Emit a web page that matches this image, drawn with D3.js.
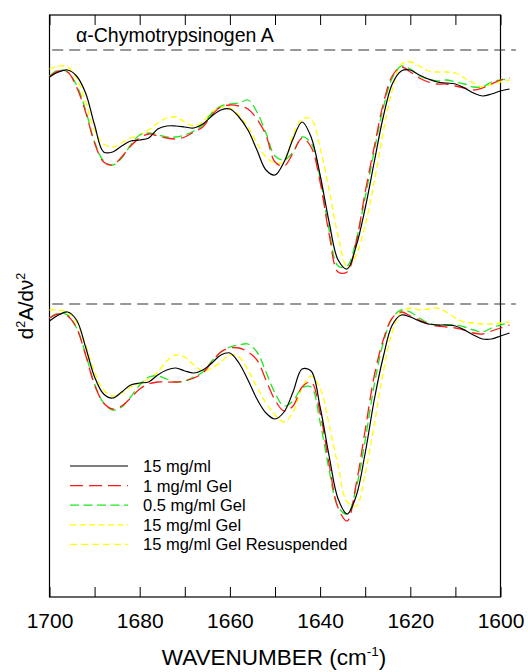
<!DOCTYPE html>
<html>
<head>
<meta charset="utf-8">
<script src="https://cdnjs.cloudflare.com/ajax/libs/d3/7.8.5/d3.min.js"></script>
<style>
  body { margin: 0; background: #fff; }
  svg { font-family: "Liberation Sans", Arial, Helvetica, sans-serif; }
</style>
</head>
<body>
<script>
// wavenumber grid shared by every spectrum (cm-1)
var wavenumbers = [1700, 1698, 1696, 1694, 1692, 1690, 1688, 1686, 1684, 1682, 1680, 1678, 1676,
  1674, 1672, 1670, 1668, 1666, 1664, 1662, 1660, 1658, 1656, 1654, 1652, 1650,
  1648, 1646, 1644, 1642, 1640, 1638, 1636, 1634, 1632, 1630, 1628, 1626, 1624,
  1622, 1620, 1618, 1616, 1614, 1612, 1610, 1608, 1606, 1604, 1602, 1600, 1598];

// upper panel, second derivative (arb. units, 0 = dashed baseline)
var upperBlack = [-2.7, -2.2, -2.0, -2.6, -4.3, -7.5, -10.2, -10.2, -9.6, -9.1, -9.0, -8.8, -7.9,
  -7.6, -7.6, -7.7, -7.8, -7.4, -6.6, -6.0, -5.9, -6.7, -8.0, -10.0, -12.0, -12.5,
  -11.2, -8.9, -7.2, -8.7, -12.5, -17.2, -21.0, -21.9, -19.6, -15.8, -11.2, -6.7, -3.4,
  -2.1, -2.0, -2.5, -2.9, -3.2, -3.3, -3.4, -3.8, -4.3, -4.6, -4.4, -4.1, -3.9];
var upperRed = [-2.7, -2.1, -2.2, -3.7, -6.2, -9.3, -11.2, -11.5, -10.7, -9.6, -8.8, -8.4, -8.6,
  -8.8, -8.9, -8.7, -8.2, -7.7, -6.5, -5.7, -5.5, -5.6, -5.9, -6.9, -8.5, -11.2,
  -11.6, -10.3, -8.8, -9.7, -13.2, -18.4, -22.2, -22.2, -19.2, -14.2, -9.7, -5.4, -2.6,
  -1.7, -2.2, -2.8, -3.2, -3.4, -3.4, -3.6, -3.8, -4.0, -3.8, -3.4, -3.0, -2.8];
var upperGreen = [-2.6, -2.0, -2.2, -3.5, -6.0, -9.2, -11.1, -11.5, -10.8, -9.5, -8.5, -8.3, -8.5,
  -8.7, -8.7, -8.5, -8.1, -7.5, -6.3, -5.6, -5.4, -5.3, -5.0, -6.2, -8.3, -10.6,
  -11.0, -10.2, -8.7, -9.3, -12.8, -18.0, -21.6, -21.6, -19.0, -14.7, -10.1, -5.8, -2.8,
  -1.6, -1.9, -2.6, -2.9, -3.1, -3.0, -3.2, -3.4, -3.7, -3.7, -3.2, -3.0, -2.9];
var upperYellow = [-1.9, -1.6, -1.7, -2.8, -5.2, -8.0, -9.4, -9.7, -9.3, -8.8, -8.5, -8.0, -7.3,
  -6.8, -6.7, -7.2, -7.6, -7.2, -6.2, -5.7, -5.8, -6.5, -7.7, -9.3, -10.7, -11.3,
  -11.2, -8.5, -6.9, -6.9, -9.8, -14.0, -18.6, -21.7, -20.5, -17.5, -13.2, -8.2, -4.0,
  -1.4, -1.2, -1.6, -2.1, -2.2, -2.2, -2.3, -2.8, -3.3, -3.7, -3.4, -3.2, -3.0];

// lower panel, same units relative to its own baseline
var lowerBlack = [-1.7, -1.1, -0.8, -1.6, -4.3, -7.3, -9.0, -9.4, -8.8, -8.1, -7.9, -7.8, -7.1,
  -6.6, -6.4, -6.7, -6.9, -6.6, -5.9, -5.1, -4.9, -5.9, -7.6, -9.5, -10.9, -11.5,
  -10.8, -8.8, -6.5, -6.7, -10.3, -15.2, -19.5, -21.0, -19.2, -14.9, -9.6, -5.3, -2.1,
  -1.1, -1.3, -1.7, -2.0, -2.1, -2.1, -2.2, -2.6, -3.1, -3.5, -3.5, -3.2, -2.9];
var lowerRed = [-1.4, -1.0, -1.2, -2.4, -5.1, -8.1, -9.9, -10.5, -10.2, -9.4, -8.5, -8.0, -7.8,
  -7.8, -7.8, -7.7, -7.4, -6.9, -5.8, -4.8, -4.4, -4.4, -4.8, -5.6, -7.6, -9.6,
  -10.7, -10.2, -8.3, -7.8, -10.9, -16.0, -20.4, -21.7, -18.0, -12.6, -7.2, -3.6, -1.4,
  -0.8, -1.2, -1.6, -2.0, -2.2, -2.3, -2.4, -2.6, -2.9, -3.0, -2.7, -2.4, -2.1];
var lowerGreen = [-1.4, -0.9, -1.1, -2.4, -5.0, -8.0, -9.9, -10.6, -10.3, -9.3, -8.1, -7.3, -7.2,
  -7.5, -7.8, -7.7, -7.3, -6.8, -5.7, -4.8, -4.3, -4.1, -4.0, -4.8, -6.8, -8.9,
  -10.2, -9.7, -8.4, -8.3, -11.8, -16.6, -20.3, -21.0, -18.4, -13.6, -8.1, -3.9, -1.4,
  -0.6, -0.8, -1.4, -1.9, -2.1, -2.1, -2.1, -2.3, -2.6, -2.8, -2.4, -2.1, -1.9];
var lowerYellow = [-0.6, -0.6, -0.8, -1.8, -4.1, -6.8, -8.6, -9.2, -8.9, -8.3, -7.9, -7.5, -6.8,
  -5.7, -5.1, -5.3, -6.1, -6.7, -6.4, -5.8, -5.1, -5.3, -6.6, -8.3, -9.9, -11.1,
  -11.8, -10.8, -8.4, -7.2, -8.4, -12.1, -16.2, -19.8, -20.2, -16.9, -12.1, -6.8, -2.8,
  -0.8, -0.4, -0.6, -0.5, -0.4, -0.8, -1.4, -1.8, -1.9, -2.0, -2.0, -1.9, -1.8];

// offsets of the two stacked panels, and the extent of the dashed baselines
var panelOffsets = [0, -25.4];
var baselineExtent = [1699.4, 1596.6];

var legendLabels = ["15 mg/ml", "1 mg/ml Gel", "0.5 mg/ml Gel", "15 mg/ml Gel", "15 mg/ml Gel Resuspended"];
var xTickValues = [1700, 1690, 1680, 1670, 1660, 1650, 1640, 1630, 1620, 1610, 1600];

// styles for each sample
var styles = [
  {color: "#000000", dash: null, width: 1.2},
  {color: "#ff1a1a", dash: "13,6", width: 1.3},
  {color: "#1ee81e", dash: "9,4.5", width: 1.3},
  {color: "#ffff00", dash: "6,3.5", width: 1.3},
  {color: "#ffff00", dash: "7,4", width: 1.3}
];

var width = 528, height = 672;
var plot = {left: 49.5, right: 500.5, top: 15, bottom: 597};

var svg = d3.select("body").append("svg")
  .attr("width", width)
  .attr("height", height);

var x = d3.scaleLinear().domain([1700, 1600]).range([plot.left, plot.right]);
var y = d3.scaleLinear().domain([-54.7, 3.5]).range([plot.bottom, plot.top]);

// frame
svg.append("rect")
  .attr("x", plot.left).attr("y", plot.top)
  .attr("width", plot.right - plot.left).attr("height", plot.bottom - plot.top)
  .attr("fill", "none").attr("stroke", "#000").attr("stroke-width", 1.2);

// bottom axis, ticks pointing inwards
var xAxis = svg.append("g")
  .attr("transform", "translate(0," + plot.bottom + ")")
  .call(d3.axisBottom(x).tickValues(xTickValues).tickSize(-10).tickPadding(16)
    .tickFormat(function(d) { return d % 20 === 0 ? d : ""; }));
xAxis.select(".domain").remove();
xAxis.selectAll("text").attr("font-size", 21).attr("font-family", null).attr("fill", "#000");

var topAxis = svg.append("g")
  .attr("transform", "translate(0," + plot.top + ")")
  .call(d3.axisTop(x).tickValues(xTickValues).tickSize(-10).tickFormat(""));
topAxis.select(".domain").remove();

svg.selectAll(".tick line").attr("stroke", "#000").attr("stroke-width", 1);

// dashed baselines
svg.selectAll(".baseline")
  .data(panelOffsets)
  .enter().append("line")
  .attr("class", "baseline")
  .attr("x1", x(baselineExtent[0]))
  .attr("x2", x(baselineExtent[1]))
  .attr("y1", function(d) { return y(d); })
  .attr("y2", function(d) { return y(d); })
  .attr("stroke", "#333")
  .attr("stroke-width", 1.2)
  .attr("stroke-dasharray", "11,6");

// spectra
var panels = [
  {offset: panelOffsets[0], series: [upperBlack, upperRed, upperGreen, upperYellow]},
  {offset: panelOffsets[1], series: [lowerBlack, lowerRed, lowerGreen, lowerYellow]}
];

panels.forEach(function(p) {
  var line = d3.line()
    .x(function(d, i) { return x(wavenumbers[i]); })
    .y(function(d) { return y(d + p.offset); })
    .curve(d3.curveCatmullRom.alpha(0.5));

  // draw the black one last so it sits on top
  [3, 2, 1, 0].forEach(function(k) {
    svg.append("path")
      .datum(p.series[k])
      .attr("d", line)
      .attr("fill", "none")
      .attr("stroke", styles[k].color)
      .attr("stroke-width", styles[k].width)
      .attr("stroke-dasharray", styles[k].dash);
  });
});

// title
svg.append("text")
  .attr("x", 76).attr("y", 42)
  .attr("font-size", 19.5)
  .text("\u03b1-Chymotrypsinogen A");

// legend
var legend = svg.append("g").attr("transform", "translate(70,466)");
var rows = legend.selectAll("g")
  .data(legendLabels)
  .enter().append("g")
  .attr("transform", function(d, i) { return "translate(0," + (i * 19.6) + ")"; });
rows.append("line")
  .attr("x1", 0).attr("x2", 58)
  .attr("stroke", function(d, i) { return styles[i].color; })
  .attr("stroke-width", function(d, i) { return styles[i].width; })
  .attr("stroke-dasharray", function(d, i) { return styles[i].dash; });
rows.append("text")
  .attr("x", 73).attr("y", 6)
  .attr("font-size", 16.5)
  .text(function(d) { return d; });

// axis titles
var xt = svg.append("text")
  .attr("x", 274).attr("y", 665)
  .attr("text-anchor", "middle")
  .attr("font-size", 22.5);
xt.append("tspan").text("WAVENUMBER (cm");
xt.append("tspan").attr("font-size", 13.5).attr("dy", -9).text("-1");
xt.append("tspan").attr("dy", 9).text(")");

var yt = svg.append("text")
  .attr("transform", "translate(33,306) rotate(-90)")
  .attr("text-anchor", "middle")
  .attr("font-size", 20.5);
yt.append("tspan").text("d");
yt.append("tspan").attr("font-size", 12.5).attr("dy", -8).text("2");
yt.append("tspan").attr("dy", 8).text("A/d\u03bd");
yt.append("tspan").attr("font-size", 12.5).attr("dy", -8).text("2");
</script>
</body>
</html>
